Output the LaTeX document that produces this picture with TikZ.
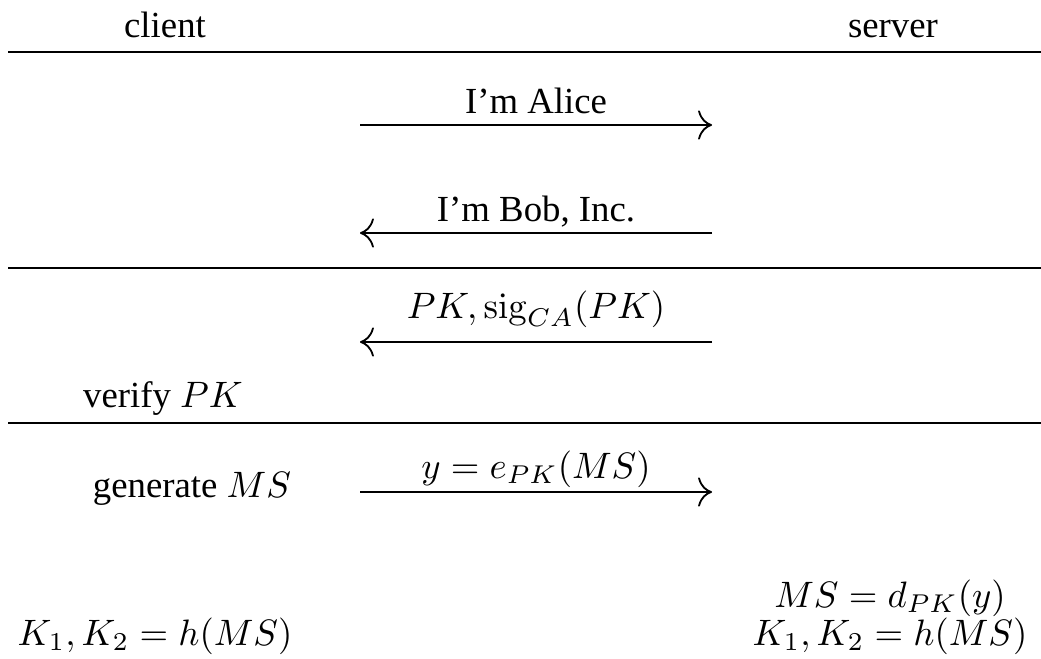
\documentclass[tikz,border=0pt]{standalone}
\usepackage[no-math]{fontspec}
\setmainfont{Liberation Serif}
\usetikzlibrary{arrows.meta}
\begin{document}
\begin{tikzpicture}[x=0.272pt,y=-0.272pt,
  txt/.style={inner sep=0pt, anchor=base, font=\fontsize{10pt}{12pt}\selectfont},
  sepline/.style={line width=0.55pt},
  msg/.style={line width=0.5pt, -{Computer Modern Rightarrow[scale=1.4]}}]
\useasboundingbox (0,0) rectangle (1041,659);
% column headers
\node[txt] (client) at (165,37) {client};
\node[txt] (server) at (893,37) {server};
% separator lines
\coordinate (l1a) at (8,52);   \coordinate (l1b) at (1041,52);
\coordinate (l2a) at (8,268);  \coordinate (l2b) at (1041,268);
\coordinate (l3a) at (8,423);  \coordinate (l3b) at (1041,423);
\draw[sepline] (l1a) -- (l1b);
\draw[sepline] (l2a) -- (l2b);
\draw[sepline] (l3a) -- (l3b);
% messages
\coordinate (m1a) at (360,125); \coordinate (m1b) at (712,125);
\node[txt] (alice) at (536,113) {I’m Alice};
\draw[msg] (m1a) -- (m1b);
\coordinate (m2a) at (712,233); \coordinate (m2b) at (360,233);
\node[txt] (bob) at (536,221) {I’m Bob, Inc.};
\draw[msg] (m2a) -- (m2b);
\coordinate (m3a) at (712,342); \coordinate (m3b) at (360,342);
\node[txt] (cert) at (536,318) {$PK, \mathrm{sig}_{CA}(PK)$};
\draw[msg] (m3a) -- (m3b);
\node[txt] (verify) at (163,407) {verify $PK$};
\coordinate (m4a) at (360,492); \coordinate (m4b) at (712,492);
\node[txt] (enc) at (536,478) {$y = e_{PK}(MS)$};
\draw[msg] (m4a) -- (m4b);
\node[txt] (gen) at (192,497) {generate $MS$};
% key derivation
\node[txt] (dec) at (890,607) {$MS = d_{PK}(y)$};
\node[txt] (kserver) at (890,645) {$K_1, K_2 = h(MS)$};
\node[txt] (kclient) at (155,645) {$K_1, K_2 = h(MS)$};
\end{tikzpicture}
\end{document}
